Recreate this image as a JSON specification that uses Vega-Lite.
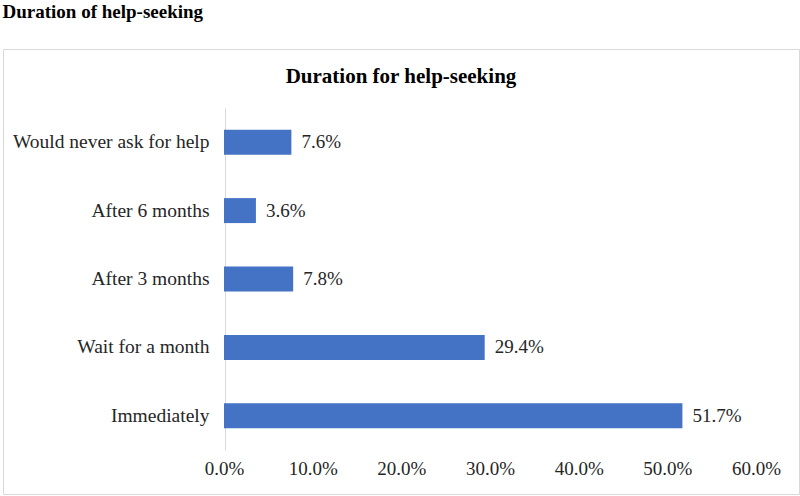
{
  "$schema": "https://vega.github.io/schema/vega-lite/v6.json",
  "padding": {"left": 2, "top": 2, "right": 2, "bottom": 0},
  "title": {
    "text": "Duration of help-seeking",
    "anchor": "start",
    "font": "Liberation Serif",
    "fontSize": 19,
    "fontWeight": "bold",
    "color": "#000000",
    "offset": 27
  },
  "config": {
    "font": "Liberation Serif",
    "view": {"stroke": "#d9d9d9", "strokeWidth": 1},
    "axis": {"labelFont": "Liberation Serif"},
    "text": {"font": "Liberation Serif"}
  },
  "vconcat": [
    {
      "width": 796,
      "height": 445,
      "title": {
        "text": "Duration for help-seeking",
        "anchor": "middle",
        "font": "Liberation Serif",
        "fontSize": 21,
        "fontWeight": "bold",
        "color": "#000000",
        "offset": -38
      },
      "data": {
        "values": [
          {"duration": "Would never ask for help", "share": 0.076},
          {"duration": "After 6 months", "share": 0.036},
          {"duration": "After 3 months", "share": 0.078},
          {"duration": "Wait for a month", "share": 0.294},
          {"duration": "Immediately", "share": 0.517}
        ]
      },
      "encoding": {
        "y": {
          "field": "duration",
          "type": "nominal",
          "sort": ["Would never ask for help", "After 6 months", "After 3 months", "Wait for a month", "Immediately"],
          "scale": {"range": [59, 401], "paddingInner": 0.635, "paddingOuter": 0.3175},
          "axis": {
            "title": null,
            "offset": -222,
            "domainColor": "#d9d9d9",
            "ticks": false,
            "grid": false,
            "labelPadding": 16,
            "labelLimit": 0,
            "labelFontSize": 19.5,
            "labelColor": "#262626",
            "labelFont": "Liberation Serif"
          }
        },
        "x": {
          "field": "share",
          "type": "quantitative",
          "scale": {"domain": [0, 0.6], "range": [221, 753]},
          "axis": {
            "title": null,
            "values": [0, 0.1, 0.2, 0.3, 0.4, 0.5, 0.6],
            "format": ".1%",
            "offset": -41,
            "domain": false,
            "ticks": false,
            "grid": false,
            "labelFlush": false,
            "labelOverlap": false,
            "labelPadding": 6,
            "labelFontSize": 19,
            "labelColor": "#262626",
            "labelFont": "Liberation Serif"
          }
        }
      },
      "layer": [
        {"mark": {"type": "bar", "color": "#4472c4"}},
        {
          "mark": {"type": "text", "align": "left", "baseline": "middle", "dx": 10, "fontSize": 19, "color": "#262626", "font": "Liberation Serif"},
          "encoding": {"text": {"field": "share", "type": "quantitative", "format": ".1%"}}
        }
      ]
    }
  ]
}
